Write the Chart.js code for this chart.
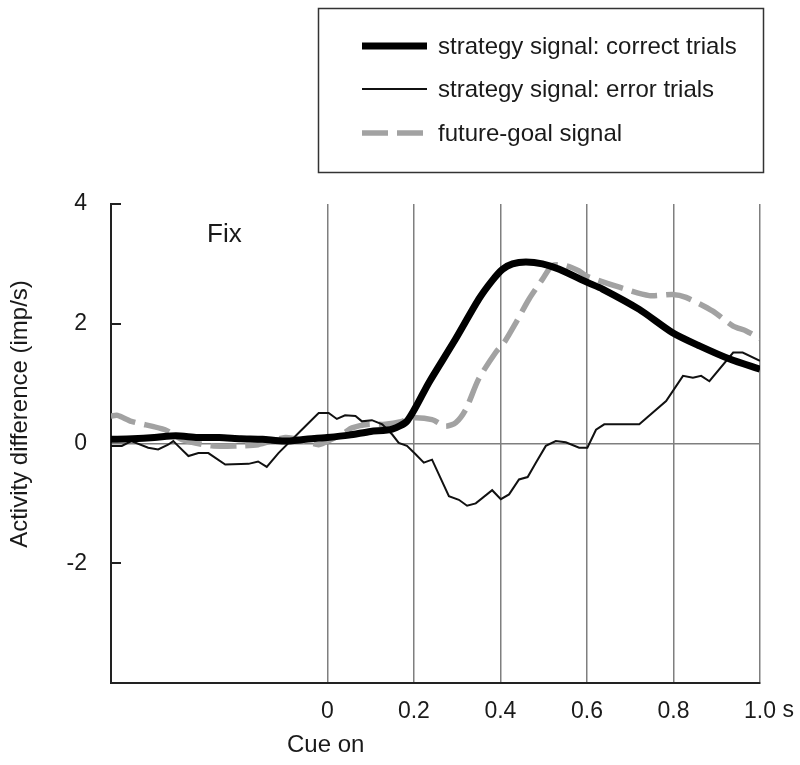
<!DOCTYPE html>
<html>
<head>
<meta charset="utf-8">
<script src="https://cdn.jsdelivr.net/npm/chart.js@4/dist/chart.umd.min.js"></script>
<style>
html,body{margin:0;padding:0;background:#fff;}
canvas{display:block;}
</style>
</head>
<body>
<canvas id="c" width="800" height="765"></canvas>
<script>
// ---- data ----
const corrX = [-0.5,-0.45,-0.4,-0.35,-0.3,-0.25,-0.2,-0.15,-0.1,-0.05,0,0.05,0.1,0.15,0.185,0.235,0.296,0.35,0.381,0.405,0.428,0.459,0.497,0.536,0.601,0.636,0.721,0.798,0.86,0.93,1.0];
const corrY = [0.07,0.08,0.1,0.13,0.1,0.1,0.08,0.07,0.04,0.07,0.1,0.14,0.2,0.24,0.38,1.02,1.74,2.41,2.72,2.91,3.0,3.03,3.0,2.91,2.69,2.58,2.24,1.85,1.63,1.41,1.24];

const errX = [-0.505,-0.475,-0.453,-0.414,-0.391,-0.368,-0.356,-0.345,-0.321,-0.298,-0.275,-0.236,-0.182,-0.16,-0.14,-0.113,-0.066,-0.02,0.003,0.022,0.041,0.065,0.08,0.103,0.127,0.15,0.165,0.184,0.204,0.223,0.242,0.281,0.304,0.323,0.343,0.381,0.401,0.42,0.443,0.463,0.482,0.505,0.528,0.551,0.582,0.601,0.621,0.64,0.721,0.783,0.822,0.845,0.864,0.883,0.938,0.96,1.0];
const errY = [-0.04,-0.04,0.04,-0.07,-0.1,-0.02,0.04,-0.04,-0.21,-0.16,-0.16,-0.35,-0.34,-0.3,-0.39,-0.16,0.18,0.51,0.51,0.41,0.47,0.46,0.37,0.39,0.32,0.15,0.01,-0.04,-0.18,-0.32,-0.27,-0.88,-0.94,-1.04,-1.0,-0.78,-0.93,-0.85,-0.6,-0.56,-0.32,-0.04,0.04,0.02,-0.07,-0.07,0.23,0.32,0.32,0.71,1.13,1.1,1.13,1.04,1.52,1.52,1.38];

const goalX = [-0.5,-0.485,-0.453,-0.375,-0.337,-0.267,-0.206,-0.16,-0.097,-0.05,-0.02,0.01,0.04,0.057,0.096,0.134,0.173,0.196,0.242,0.273,0.297,0.32,0.35,0.389,0.409,0.436,0.466,0.497,0.52,0.551,0.582,0.598,0.675,0.744,0.798,0.829,0.891,0.938,0.968,1.0];
const goalY = [0.46,0.47,0.37,0.23,0.07,-0.04,-0.04,-0.02,0.1,0.04,-0.02,0.07,0.18,0.26,0.32,0.32,0.37,0.43,0.4,0.29,0.35,0.57,1.08,1.52,1.69,2.02,2.41,2.74,2.97,2.97,2.88,2.8,2.61,2.47,2.49,2.44,2.21,1.96,1.88,1.75];

const seriesLabels = ['strategy signal: correct trials','strategy signal: error trials','future-goal signal'];
const xTicks = [0,0.2,0.4,0.6,0.8,1.0];
const xTickLabels = ['0','0.2','0.4','0.6','0.8','1.0'];
const yTicks = [-4,-2,0,2,4];
const yTickLabels = ['','-2','0','2','4'];
const xUnit = 's';
const xNote = 'Cue on';
const yTitle = 'Activity difference (imp/s)';
const panelLabel = 'Fix';

const zip = (xs, ys) => xs.map((x,i)=>({x:x, y:ys[i]}));
const FONT = '"Liberation Sans", Arial, Helvetica, sans-serif';

const extras = {
  id: 'extras',
  afterDraw(chart) {
    const ctx = chart.ctx;
    const xs = chart.scales.x, ys = chart.scales.y;
    const ca = chart.chartArea;
    ctx.save();
    // inward y tick marks
    ctx.strokeStyle = '#222';
    ctx.lineWidth = 2;
    yTicks.forEach(v => {
      if (v === 0 || v === -4) return;
      const py = Math.round(ys.getPixelForValue(v));
      ctx.beginPath();
      ctx.moveTo(ca.left, py);
      ctx.lineTo(ca.left + 10, py);
      ctx.stroke();
    });
    ctx.fillStyle = '#1a1a1a';
    // unit after last x tick
    ctx.font = '23px ' + FONT;
    ctx.textBaseline = 'top';
    ctx.textAlign = 'left';
    const lastLbl = xTickLabels[xTickLabels.length-1];
    const lx = xs.getPixelForValue(xTicks[xTicks.length-1]) + ctx.measureText(lastLbl).width/2 + ctx.measureText(' ').width;
    ctx.fillText(xUnit, lx, ca.bottom + 16);
    // Cue on
    ctx.font = '24px ' + FONT;
    ctx.textBaseline = 'alphabetic';
    ctx.fillText(xNote, 287, 752);
    // y title
    ctx.save();
    ctx.translate(20, 414);
    ctx.rotate(-Math.PI/2);
    ctx.textAlign = 'center';
    ctx.textBaseline = 'middle';
    ctx.fillText(yTitle, 0, 0);
    ctx.restore();
    // Fix
    ctx.font = '26px ' + FONT;
    ctx.textAlign = 'left';
    ctx.textBaseline = 'alphabetic';
    ctx.fillText(panelLabel, 207, 242);
    // legend
    ctx.strokeStyle = '#333';
    ctx.lineWidth = 1.5;
    ctx.strokeRect(318.5, 8.5, 445, 164);
    const rows = [46, 89, 133];
    chart.data.datasets.forEach((ds, i) => {
      const y = rows[i];
      ctx.save();
      ctx.strokeStyle = ds.borderColor;
      ctx.lineWidth = ds.borderWidth;
      ctx.setLineDash(ds.borderDash || []);
      ctx.lineCap = 'butt';
      ctx.beginPath();
      ctx.moveTo(362, y);
      ctx.lineTo(427, y);
      ctx.stroke();
      ctx.restore();
      ctx.font = '24px ' + FONT;
      ctx.fillStyle = '#1a1a1a';
      ctx.textAlign = 'left';
      ctx.textBaseline = 'middle';
      ctx.fillText(ds.label, 438, y + 1);
    });
    ctx.restore();
  }
};

new Chart(document.getElementById('c'), {
  type: 'line',
  data: {
    datasets: [
      { label: seriesLabels[0], data: zip(corrX, corrY), borderColor: '#000', borderWidth: 7, pointRadius: 0, tension: 0.25, borderJoinStyle: 'round', borderCapStyle: 'butt' },
      { label: seriesLabels[1], data: zip(errX, errY), borderColor: '#111', borderWidth: 2, pointRadius: 0, tension: 0 },
      { label: seriesLabels[2], data: zip(goalX, goalY), borderColor: '#a2a2a2', borderWidth: 5.5, borderDash: [26, 9], pointRadius: 0, tension: 0.25, borderCapStyle: 'butt' }
    ]
  },
  options: {
    responsive: false,
    animation: false,
    devicePixelRatio: 1,
    layout: { padding: { left: 0, right: 40, top: 204, bottom: 0 } },
    plugins: { legend: { display: false }, tooltip: { enabled: false } },
    scales: {
      x: {
        type: 'linear', min: -0.5, max: 1.0,
        afterBuildTicks: s => { s.ticks = xTicks.map(v => ({ value: v })); },
        afterFit: s => { s.height = 82; },
        ticks: {
          callback: (v, i) => xTickLabels[i],
          font: { family: FONT, size: 23 }, color: '#1a1a1a', padding: 15, maxRotation: 0, autoSkip: false
        },
        grid: { color: '#7f7f7f', lineWidth: 1.5, drawTicks: false },
        border: { color: '#222', width: 2 }
      },
      y: {
        type: 'linear', min: -4, max: 4,
        afterBuildTicks: s => { s.ticks = yTicks.map(v => ({ value: v })); },
        afterFit: s => { s.width = 111; },
        ticks: {
          callback: (v, i) => yTickLabels[i],
          font: { family: FONT, size: 23 }, color: '#1a1a1a', padding: 24, autoSkip: false
        },
        grid: { color: c => (c.tick && c.tick.value === 0) ? '#7f7f7f' : 'rgba(0,0,0,0)', lineWidth: 1.5, drawTicks: false },
        border: { color: '#222', width: 2 }
      }
    }
  },
  plugins: [extras]
});
</script>
</body>
</html>
